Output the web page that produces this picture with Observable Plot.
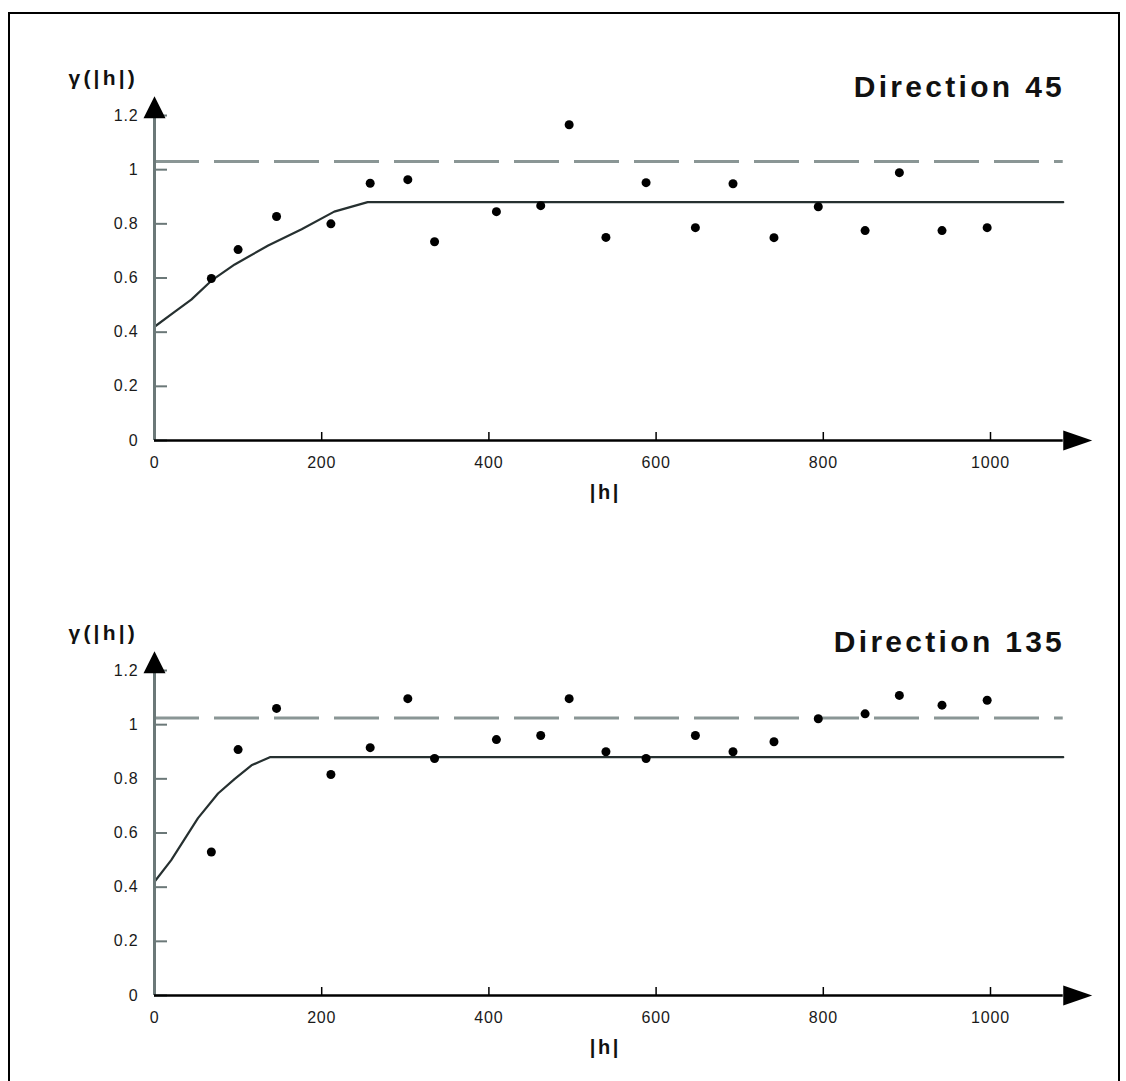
<!DOCTYPE html>
<html>
<head>
<meta charset="utf-8">
<script src="https://cdn.jsdelivr.net/npm/d3@7"></script>
<script src="https://cdn.jsdelivr.net/npm/@observablehq/plot@0.6"></script>
<style>
  html, body { margin: 0; padding: 0; background: #fff; }
  #wrap { position: relative; width: 1126px; height: 1081px; overflow: hidden; background: #fff; }
  #frame { position: absolute; left: 8px; top: 12px; width: 1108px; height: 1080px;
           border-left: 2px solid #000; border-top: 2px solid #000; border-right: 2px solid #000; }
  .panel { position: absolute; left: 0; }
</style>
</head>
<body>
<div id="wrap"><div id="frame"></div></div>
<script>
// ---- data ----
const lags = [68, 100, 146, 211, 258, 303, 335, 409, 462, 496, 540, 588, 647, 692, 741, 794, 850, 891, 942, 996];
const gamma45 = [0.598, 0.705, 0.827, 0.80, 0.95, 0.963, 0.734, 0.845, 0.867, 1.166, 0.75, 0.952, 0.786, 0.948, 0.749, 0.863, 0.775, 0.989, 0.775, 0.786];
const gamma135 = [0.53, 0.908, 1.06, 0.816, 0.915, 1.096, 0.875, 0.945, 0.96, 1.096, 0.90, 0.875, 0.96, 0.90, 0.937, 1.022, 1.04, 1.108, 1.072, 1.09];

const model45H = [0, 22, 44, 68, 96, 136, 176, 215, 255, 1087];
const model45G = [0.42, 0.47, 0.52, 0.59, 0.65, 0.72, 0.78, 0.845, 0.88, 0.88];
const model135H = [0, 20, 52, 76, 96, 116, 138, 1087];
const model135G = [0.42, 0.50, 0.655, 0.746, 0.80, 0.85, 0.88, 0.88];

const variance45 = 1.03;
const variance135 = 1.025;
const lineEnd = 1087;

const xTicks = [0, 200, 400, 600, 800, 1000];
const yTicks = [0, 0.2, 0.4, 0.6, 0.8, 1, 1.2];
const xAxisEnd = 1087;
const yAxisEnd = 1.19;

const titles = ["Direction 45", "Direction 135"];
const yLabel = "γ(|h|)";
const xLabel = "|h|";

// ---- drawing ----
const FONT = "'Liberation Sans', Arial, Helvetica, sans-serif";
const upArrow = { draw(ctx) { ctx.moveTo(0, -22); ctx.lineTo(11, 0); ctx.lineTo(-11, 0); ctx.closePath(); } };
const rightArrow = { draw(ctx) { ctx.moveTo(0, -10); ctx.lineTo(29, 0); ctx.lineTo(0, 10); ctx.closePath(); } };

function panel(values, mH, mG, variance, title) {
  const pts = lags.map((h, i) => ({h, g: values[i]}));
  const model = mH.map((h, i) => ({h, g: mG[i]}));
  const svg = Plot.plot({
    width: 1126, height: 510,
    marginLeft: 154, marginRight: 52.4, marginTop: 115, marginBottom: 70,
    x: {domain: [0, 1100], axis: null},
    y: {domain: [0, 1.2], axis: null},
    style: {fontFamily: FONT, background: "transparent", overflow: "visible"},
    marks: [
      Plot.ruleY([variance], {x1: 0, x2: lineEnd, stroke: "#8a9695", strokeWidth: 3, strokeDasharray: "45,15"}),
      Plot.line(model, {x: "h", y: "g", stroke: "#263030", strokeWidth: 2.2}),
      Plot.axisY(yTicks, {anchor: "left", tickSize: -13, tickPadding: 29, stroke: "#6b7878", strokeWidth: 2,
        fill: "#1a1a1a", fontSize: 16, tickFormat: d => String(d), label: null}),
      Plot.axisX(xTicks, {anchor: "bottom", tickSize: -8, tickPadding: 24, stroke: "#000", strokeWidth: 1.5,
        fill: "#1a1a1a", fontSize: 16, tickFormat: d => String(d), label: null}),
      Plot.ruleX([0], {y1: 0, y2: yAxisEnd, stroke: "#6b7878", strokeWidth: 3}),
      Plot.ruleY([0], {x1: 0, x2: xAxisEnd, stroke: "#000", strokeWidth: 2.5}),
      Plot.dot([{x: 0, y: yAxisEnd}], {x: "x", y: "y", symbol: upArrow, fill: "#000", stroke: null, r: 5}),
      Plot.dot([{x: xAxisEnd, y: 0}], {x: "x", y: "y", symbol: rightArrow, fill: "#000", stroke: null, r: 5}),
      Plot.dot(pts, {x: "h", y: "g", fill: "#000", stroke: null, r: 4.5}),
      Plot.text([title], {frameAnchor: "top-right", dx: -9, dy: -19, lineAnchor: "bottom", textAnchor: "end",
        fontSize: 30, fontWeight: "bold", fill: "#111"}),
      Plot.text([yLabel], {frameAnchor: "top-left", dx: -86, dy: -31, lineAnchor: "bottom", textAnchor: "start",
        fontSize: 21, fontWeight: "bold", fill: "#111"}),
      Plot.text([xLabel], {frameAnchor: "bottom", dx: -9, dy: 58, lineAnchor: "bottom",
        fontSize: 20, fontWeight: "bold", fill: "#111"})
    ]
  });
  // letter spacing like the reference's wide raster font
  d3.select(svg).selectAll("text").each(function() {
    const t = this.textContent;
    if (t === title) this.style.letterSpacing = "3.3px";
    else if (t === yLabel) this.style.letterSpacing = "3.2px";
    else if (t === xLabel) this.style.letterSpacing = "2.5px";
    else this.style.letterSpacing = "0.8px";
  });
  return svg;
}

const wrap = document.getElementById("wrap");
const p1 = panel(gamma45, model45H, model45G, variance45, titles[0]);
p1.classList.add("panel"); p1.style.top = "0px";
const p2 = panel(gamma135, model135H, model135G, variance135, titles[1]);
p2.classList.add("panel"); p2.style.top = "555px";
wrap.appendChild(p1);
wrap.appendChild(p2);
</script>
</body>
</html>
